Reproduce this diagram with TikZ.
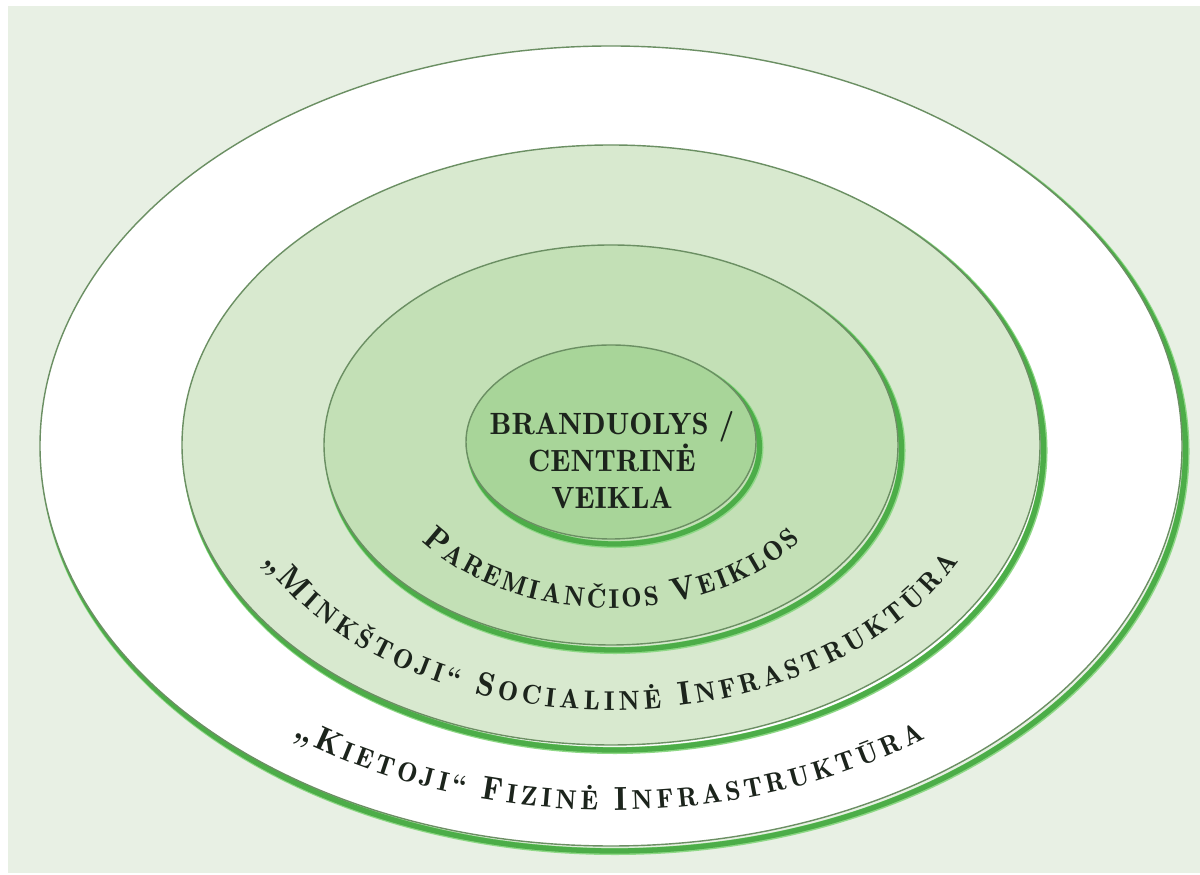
\documentclass[tikz,border=0pt]{standalone}
\usepackage{fontspec}
\usetikzlibrary{calc, decorations.text}
\definecolor{bg}{HTML}{E8F0E4}
\definecolor{g1}{HTML}{D8E9CF}
\definecolor{g2}{HTML}{C3E0B6}
\definecolor{g3}{HTML}{A8D599}
\definecolor{ln}{HTML}{6B8F63}
\definecolor{sh}{HTML}{4CAD48}
\definecolor{hl}{HTML}{8ED886}
\definecolor{tx}{HTML}{1C241C}
\newcommand{\arcbig}{\fontsize{19}{20}\fontseries{b}\selectfont}
\newcommand{\arcsmall}{\fontsize{15.5}{16}\fontseries{b}\selectfont}
\tikzset{
    ring/.style={draw=ln, line width=0.8pt},
    rim/.style={draw=sh, line width=3pt},
    halo/.style={draw=hl, line width=4pt},
    curved/.style={decorate, decoration={text along path, text align=fit to path, text color=tx}}
}

\begin{document}
\begin{tikzpicture}[x=0.02cm, y=0.02cm]
    \useasboundingbox (0,0) rectangle (1200,875);
    \fill[bg] (8,2) rectangle (1200,869);
    \coordinate (c) at (611,430);
    % rings, outer first
    \foreach \rx/\ry/\cy/\col in {571/400/-1/white, 429/300/0/g1, 287/200/0/g2, 145/97/3/g3} {
        \draw[halo] ($(c)+(4,\cy-5.5)$) ellipse [x radius=\rx, y radius=\ry];
        \draw[rim] ($(c)+(3.5,\cy-5)$) ellipse [x radius=\rx, y radius=\ry];
        \fill[\col, ring] ($(c)+(0,\cy)$) ellipse [x radius=\rx, y radius=\ry];
    }
    \node[font=\fontsize{17.5}{21}\fontseries{b}\selectfont, text=tx, align=center] (core) at (612,415) {BRANDUOLYS /\\CENTRINĖ\\VEIKLA};
    % curved labels
    \path[curved, decoration={text={|\arcbig|P|\arcsmall|AREMIANČIOS |\arcbig|V|\arcsmall|EIKLOS}}]
        ($(c)+(216:234 and 163)$) arc [start angle=216, end angle=324, x radius=234, y radius=163];
    \path[curved, decoration={text={|\arcbig|„M|\arcsmall|INKŠTOJI“ |\arcbig|S|\arcsmall|OCIALINĖ |\arcbig|I|\arcsmall|NFRASTRUKTŪRA}}]
        ($(c)+(206:387 and 265)$) arc [start angle=206, end angle=334, x radius=387, y radius=265];
    \path[curved, decoration={text={|\arcbig|„K|\arcsmall|IETOJI“ |\arcbig|F|\arcsmall|IZINĖ |\arcbig|I|\arcsmall|NFRASTRUKTŪRA}}]
        ($(c)+(233:528 and 365)$) arc [start angle=233, end angle=306.5, x radius=528, y radius=365];
\end{tikzpicture}
\end{document}
